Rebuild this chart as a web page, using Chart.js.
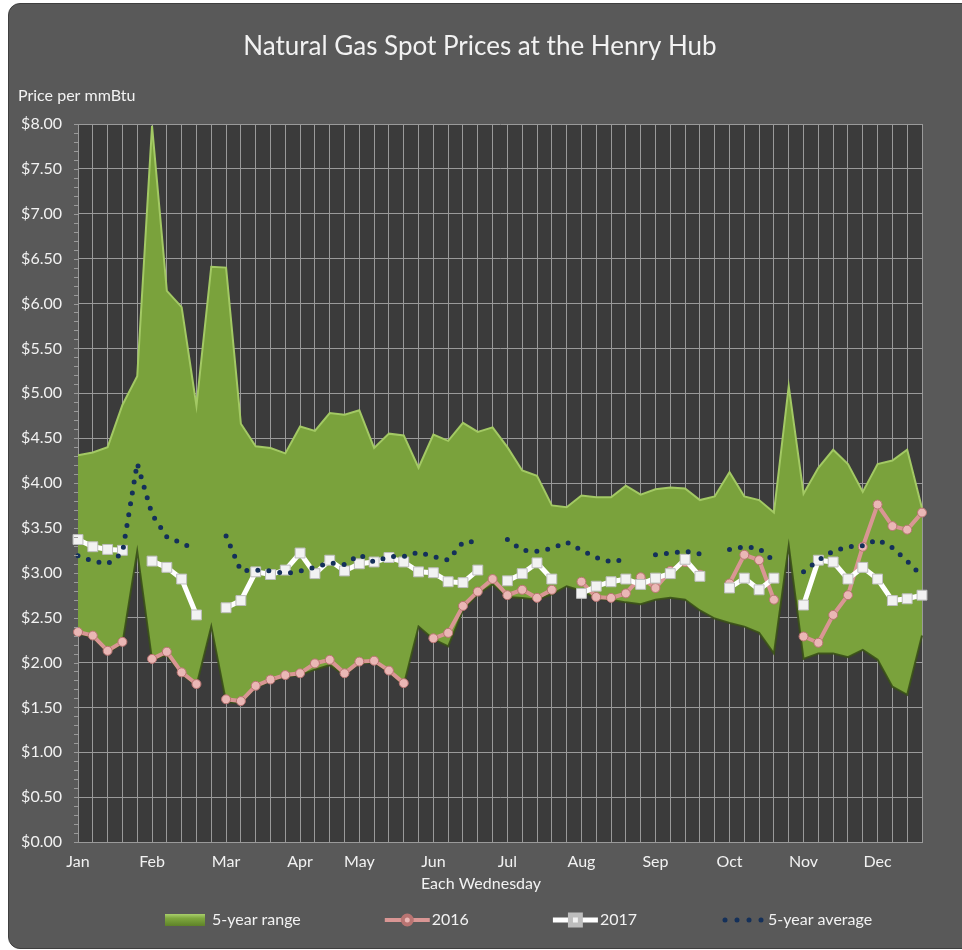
<!DOCTYPE html>
<html>
<head>
<meta charset="utf-8">
<script src="https://cdn.jsdelivr.net/npm/chart.js@4/dist/chart.umd.min.js"></script>
<style>
  html, body { margin: 0; padding: 0; background: #fff; overflow: hidden; }
  #frame { position: absolute; left: 8px; top: 3px; width: 975px; height: 944px;
           background: #595959; border: 1px solid #3f3f3f; border-radius: 12px; }
  #wrap { position: absolute; left: 0; top: 0; width: 962px; height: 950px; }
</style>
</head>
<body>
<div id="frame"></div>
<div id="wrap"><canvas id="gasChart" width="962" height="950"></canvas></div>
<script>
// one slot per Wednesday, months get 4 or 5 slots
const weeks = [
  'Jan', '', '', '', '',
  'Feb', '', '', '', '',
  'Mar', '', '', '', '',
  'Apr', '', '', '',
  'May', '', '', '', '',
  'Jun', '', '', '', '',
  'Jul', '', '', '', '',
  'Aug', '', '', '', '',
  'Sep', '', '', '', '',
  'Oct', '', '', '', '',
  'Nov', '', '', '', '',
  'Dec', '', '', ''
];

const rangeLow = [
  2.32, 2.28, 2.11, 2.21, 3.24,
  2.03, 2.08, 1.87, 1.74, 2.40,
  1.56, 1.55, 1.72, 1.79, 1.84,
  1.86, 1.92, 1.97, 1.86,
  1.99, 2.00, 1.89, 1.75, 2.40,
  2.26, 2.18, 2.58, 2.76, 2.87,
  2.73, 2.72, 2.70, 2.76, 2.85,
  2.80, 2.71, 2.70, 2.67, 2.65,
  2.70, 2.72, 2.70, 2.58, 2.49,
  2.44, 2.40, 2.33, 2.10, 3.30,
  2.04, 2.10, 2.10, 2.06, 2.14,
  2.03, 1.73, 1.64, 2.30
];

const rangeHigh = [
  4.31, 4.34, 4.40, 4.87, 5.19,
  7.98, 6.14, 5.96, 4.86, 6.41,
  6.40, 4.66, 4.41, 4.39, 4.33,
  4.63, 4.58, 4.78, 4.76,
  4.81, 4.39, 4.55, 4.53, 4.17,
  4.54, 4.47, 4.67, 4.57, 4.62,
  4.40, 4.14, 4.08, 3.75, 3.73,
  3.86, 3.84, 3.84, 3.97, 3.87,
  3.93, 3.95, 3.94, 3.81, 3.85,
  4.12, 3.85, 3.81, 3.67, 5.08,
  3.88, 4.17, 4.37, 4.21, 3.90,
  4.21, 4.25, 4.37, 3.72
];

const prices2016 = [
  2.34, 2.30, 2.13, 2.23, null,
  2.04, 2.12, 1.89, 1.76, null,
  1.59, 1.57, 1.74, 1.81, 1.86,
  1.88, 1.99, 2.03, 1.88,
  2.01, 2.02, 1.91, 1.77, null,
  2.27, 2.33, 2.63, 2.79, 2.93,
  2.75, 2.81, 2.72, 2.81, null,
  2.90, 2.73, 2.72, 2.77, 2.95,
  2.83, 3.02, 3.12, 2.98, null,
  2.88, 3.20, 3.14, 2.70, null,
  2.29, 2.22, 2.53, 2.75, 3.29,
  3.76, 3.52, 3.48, 3.67
];

const prices2017 = [
  3.37, 3.29, 3.26, 3.25, null,
  3.13, 3.06, 2.93, 2.53, null,
  2.61, 2.69, 3.01, 2.98, 3.03,
  3.22, 2.99, 3.14, 3.02,
  3.10, 3.12, 3.17, 3.12, 3.01,
  3.00, 2.90, 2.89, 3.03, null,
  2.91, 2.99, 3.11, 2.93, null,
  2.77, 2.85, 2.90, 2.93, 2.87,
  2.94, 2.99, 3.15, 2.96, null,
  2.83, 2.94, 2.81, 2.94, null,
  2.64, 3.14, 3.12, 2.93, 3.06,
  2.93, 2.69, 2.71, 2.75
];

const average5yr = [
  3.19, 3.13, 3.10, 3.22, 4.22,
  3.65, 3.40, 3.33, 3.25, null,
  3.41, 3.02, 3.03, 3.02, 2.99,
  3.02, 3.06, 3.11, 3.09,
  3.20, 3.12, 3.18, 3.18, 3.23,
  3.18, 3.14, 3.34, 3.35, null,
  3.37, 3.25, 3.24, 3.27, 3.34,
  3.25, 3.17, 3.12, 3.15, null,
  3.20, 3.22, 3.24, 3.21, null,
  3.26, 3.29, 3.27, 3.13, null,
  3.01, 3.14, 3.24, 3.29, 3.30,
  3.37, 3.28, 3.13, 2.96
];

const chartTitle = 'Natural Gas Spot Prices at the Henry Hub';
const yTitle = 'Price per mmBtu';
const xTitle = 'Each Wednesday';

const FONT = 'Lato, "Open Sans", sans-serif';
const TEXT = '#f2f2f2';
const GRID = '#9a9a9a';

// dark plot area behind the grid
const plotBackground = {
  id: 'plotBackground',
  beforeDraw(chart) {
    const { ctx, chartArea: a } = chart;
    ctx.save();
    ctx.fillStyle = '#3b3b3b';
    ctx.fillRect(a.left, a.top, a.right - a.left, a.bottom - a.top);
    ctx.restore();
  }
};

// titles placed like the Excel original, plus minor ticks on the value axis
const chartTexts = {
  id: 'chartTexts',
  afterDraw(chart) {
    const ctx = chart.ctx;
    const y = chart.scales.y;
    ctx.save();
    ctx.strokeStyle = GRID;
    ctx.lineWidth = 1;
    for (let v = 0; v <= 80; v++) {
      const py = Math.round(y.getPixelForValue(v / 10)) + 0.5;
      ctx.beginPath();
      ctx.moveTo(y.right - 4, py);
      ctx.lineTo(y.right, py);
      ctx.stroke();
    }
    ctx.fillStyle = TEXT;
    ctx.textBaseline = 'middle';
    ctx.textAlign = 'center';
    ctx.font = '26px ' + FONT;
    ctx.fillText(chartTitle, 480, 47);
    ctx.font = '16px ' + FONT;
    ctx.fillText(xTitle, 481, 884);
    ctx.textAlign = 'left';
    ctx.font = '16px ' + FONT;
    ctx.fillText(yTitle, 18, 96);
    ctx.restore();
  }
};

function drawSample(ctx, ds, x, y) {
  const w = 45;
  ctx.save();
  if (ds.legendKind === 'box') {
    const g = ctx.createLinearGradient(0, y - 6, 0, y + 6);
    g.addColorStop(0, '#a9cf6c');
    g.addColorStop(0.35, '#7fa83f');
    g.addColorStop(1, '#5e8228');
    ctx.fillStyle = g;
    ctx.fillRect(x, y - 6, w - 5, 12);
  } else if (ds.legendKind === 'dots') {
    ctx.fillStyle = ds.borderColor;
    for (let i = 0; i < 4; i++) {
      ctx.beginPath();
      ctx.arc(x + 4 + i * 12, y, 2.5, 0, Math.PI * 2);
      ctx.fill();
    }
  } else {
    ctx.strokeStyle = ds.borderColor;
    ctx.lineWidth = ds.borderWidth;
    ctx.beginPath();
    ctx.moveTo(x, y);
    ctx.lineTo(x + w, y);
    ctx.stroke();
    ctx.fillStyle = ds.pointBackgroundColor;
    ctx.strokeStyle = ds.pointBorderColor;
    Chart.helpers.drawPoint(ctx, {
      pointStyle: ds.pointStyle, radius: ds.pointRadius, borderWidth: 1, rotation: 0
    }, x + w / 2, y);
  }
  ctx.restore();
}

const excelLegend = {
  id: 'excelLegend',
  afterDraw(chart) {
    const ctx = chart.ctx;
    const items = chart.data.datasets.filter(ds => ds.legendKind);
    ctx.save();
    ctx.font = '16px ' + FONT;
    ctx.fillStyle = TEXT;
    ctx.textBaseline = 'middle';
    let x = 165;
    const y = 920;
    items.forEach(ds => {
      drawSample(ctx, ds, x, y);
      ctx.fillStyle = TEXT;
      ctx.fillText(ds.label, x + 47, y);
      x += 47 + ctx.measureText(ds.label).width + 84;
    });
    ctx.restore();
  }
};

new Chart(document.getElementById('gasChart'), {
  type: 'line',
  data: {
    labels: weeks,
    datasets: [
      {
        label: '5-year low',
        data: rangeLow,
        borderColor: 'rgba(58, 80, 24, 0.9)',
        borderWidth: 2,
        pointRadius: 0,
        fill: false,
        order: 4
      },
      {
        label: '5-year range',
        legendKind: 'box',
        data: rangeHigh,
        borderColor: '#a3c964',
        borderWidth: 2,
        backgroundColor: '#7aa23c',
        pointRadius: 0,
        fill: '-1',
        order: 5
      },
      {
        label: '2016',
        legendKind: 'line',
        data: prices2016,
        borderColor: '#d99694',
        borderWidth: 4,
        pointStyle: 'circle',
        pointRadius: 4.5,
        pointBackgroundColor: '#eab7b5',
        pointBorderColor: '#b97472',
        pointBorderWidth: 1,
        clip: false,
        order: 2
      },
      {
        label: '2017',
        legendKind: 'line',
        data: prices2017,
        borderColor: '#ffffff',
        borderWidth: 5,
        pointStyle: 'rect',
        pointRadius: 7,
        pointBackgroundColor: '#f2f2f2',
        pointBorderColor: '#bdbdbd',
        pointBorderWidth: 1,
        clip: false,
        order: 1
      },
      {
        label: '5-year average',
        legendKind: 'dots',
        data: average5yr,
        borderColor: '#14305a',
        borderWidth: 5,
        borderDash: [0, 11],
        borderCapStyle: 'round',
        pointRadius: 0,
        fill: false,
        order: 0
      }
    ]
  },
  options: {
    responsive: false,
    animation: false,
    devicePixelRatio: 1,
    layout: { padding: { left: 18, right: 40, top: 124, bottom: 78 } },
    plugins: {
      legend: { display: false },
      tooltip: { enabled: false },
      title: { display: false }
    },
    scales: {
      x: {
        type: 'category',
        afterFit: s => { s.height = 30; },
        grid: { color: GRID, drawTicks: false, offset: false },
        border: { color: GRID },
        ticks: {
          autoSkip: false, maxRotation: 0, padding: 10,
          color: TEXT, font: { family: FONT, size: 16 }
        }
      },
      y: {
        min: 0,
        max: 8,
        afterFit: s => { s.width = 60; },
        grid: { color: GRID, drawTicks: false },
        border: { color: GRID },
        ticks: {
          stepSize: 0.5, padding: 16,
          color: TEXT, font: { family: FONT, size: 16 },
          callback: v => '$' + v.toFixed(2)
        }
      }
    }
  },
  plugins: [plotBackground, chartTexts, excelLegend]
});
</script>
</body>
</html>
